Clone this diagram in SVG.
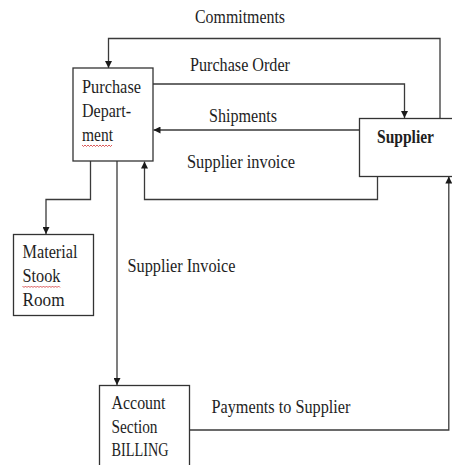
<svg xmlns="http://www.w3.org/2000/svg" width="452" height="465" viewBox="0 0 452 465">
  <defs>
    <marker id="arrow" viewBox="0 0 10 10" refX="10" refY="5" markerWidth="7" markerHeight="7" markerUnits="userSpaceOnUse" orient="auto">
      <path d="M0,0 L10,5 L0,10 Z" fill="#1a1a1a"/>
    </marker>
    <style>
      .box { fill: #ffffff; stroke: #333333; stroke-width: 1.3; }
      .line { fill: none; stroke: #3a3a3a; stroke-width: 1.3; }
      .lbl { font-family: "Liberation Serif", "Times New Roman", serif; font-size: 18.5px; fill: #1e1e1e; }
      .bold { font-weight: bold; }
      .squiggle { fill: none; stroke: #d03030; stroke-width: 0.8; }
    </style>
  </defs>
  <rect width="452" height="465" fill="#ffffff"/>

  <g id="connectors">
    <!-- Commitments: supplier back to purchase department -->
    <path class="line" d="M440,118 V38.5 H108.5 V68" marker-end="url(#arrow)"/>
    <!-- Purchase order -->
    <path class="line" d="M153,84 H404.5 V118" marker-end="url(#arrow)"/>
    <!-- Shipments -->
    <path class="line" d="M359.5,130 H153.5" marker-end="url(#arrow)"/>
    <!-- Supplier invoice to purchase department -->
    <path class="line" d="M377.5,176.5 V199.5 H144.5 V161.5" marker-end="url(#arrow)"/>
    <!-- Purchase department to material stock room -->
    <path class="line" d="M90.5,161 V199.5 H46 V234" marker-end="url(#arrow)"/>
    <!-- Supplier invoice to account section -->
    <path class="line" d="M117,161 V385" marker-end="url(#arrow)"/>
    <!-- Payments to supplier -->
    <path class="line" d="M189.5,430 H448.8 V176.5" marker-end="url(#arrow)"/>
  </g>

  <g id="purchase-department">
    <rect class="box" x="73" y="68" width="80" height="93"/>
    <text class="lbl" x="82" y="93" textLength="59" lengthAdjust="spacingAndGlyphs">Purchase</text>
    <text class="lbl" x="82" y="117" textLength="49" lengthAdjust="spacingAndGlyphs">Depart-</text>
    <text class="lbl" x="82" y="141" textLength="31" lengthAdjust="spacingAndGlyphs">ment</text>
    <path class="squiggle" d="M82,145 l1.5,1.5 l1.5,-1.5 l1.5,1.5 l1.5,-1.5 l1.5,1.5 l1.5,-1.5 l1.5,1.5 l1.5,-1.5 l1.5,1.5 l1.5,-1.5 l1.5,1.5 l1.5,-1.5 l1.5,1.5 l1.5,-1.5 l1.5,1.5 l1.5,-1.5 l1.5,1.5 l1.5,-1.5 l1.5,1.5 l1.5,-1.5"/>
  </g>

  <g id="supplier">
    <rect class="box" x="359.5" y="118.5" width="94" height="58"/>
    <text class="lbl bold" x="377" y="143" textLength="57" lengthAdjust="spacingAndGlyphs">Supplier</text>
  </g>

  <g id="material-stock-room">
    <rect class="box" x="13.5" y="234.5" width="80" height="81"/>
    <text class="lbl" x="22.5" y="258" textLength="55" lengthAdjust="spacingAndGlyphs">Material</text>
    <text class="lbl" x="22.5" y="282" textLength="38" lengthAdjust="spacingAndGlyphs">Stook</text>
    <text class="lbl" x="22.5" y="305.5" textLength="42" lengthAdjust="spacingAndGlyphs">Room</text>
    <path class="squiggle" d="M22.5,286 l1.5,1.5 l1.5,-1.5 l1.5,1.5 l1.5,-1.5 l1.5,1.5 l1.5,-1.5 l1.5,1.5 l1.5,-1.5 l1.5,1.5 l1.5,-1.5 l1.5,1.5 l1.5,-1.5 l1.5,1.5 l1.5,-1.5 l1.5,1.5 l1.5,-1.5 l1.5,1.5 l1.5,-1.5 l1.5,1.5 l1.5,-1.5 l1.5,1.5 l1.5,-1.5 l1.5,1.5 l1.5,-1.5 l1.5,1.5"/>
  </g>

  <g id="account-section">
    <rect class="box" x="99.5" y="385.5" width="90" height="85"/>
    <text class="lbl" x="111.5" y="409" textLength="54" lengthAdjust="spacingAndGlyphs">Account</text>
    <text class="lbl" x="111.5" y="433" textLength="46" lengthAdjust="spacingAndGlyphs">Section</text>
    <text class="lbl" x="111.5" y="456" textLength="57" lengthAdjust="spacingAndGlyphs">BILLING</text>
  </g>

  <g id="labels">
    <text class="lbl" x="195" y="23" textLength="90" lengthAdjust="spacingAndGlyphs">Commitments</text>
    <text class="lbl" x="190" y="71" textLength="100" lengthAdjust="spacingAndGlyphs">Purchase Order</text>
    <text class="lbl" x="209" y="122" textLength="68" lengthAdjust="spacingAndGlyphs">Shipments</text>
    <text class="lbl" x="187" y="168" textLength="108" lengthAdjust="spacingAndGlyphs">Supplier invoice</text>
    <text class="lbl" x="127.5" y="272" textLength="108" lengthAdjust="spacingAndGlyphs">Supplier Invoice</text>
    <text class="lbl" x="211.5" y="413" textLength="139" lengthAdjust="spacingAndGlyphs">Payments to Supplier</text>
  </g>
</svg>
